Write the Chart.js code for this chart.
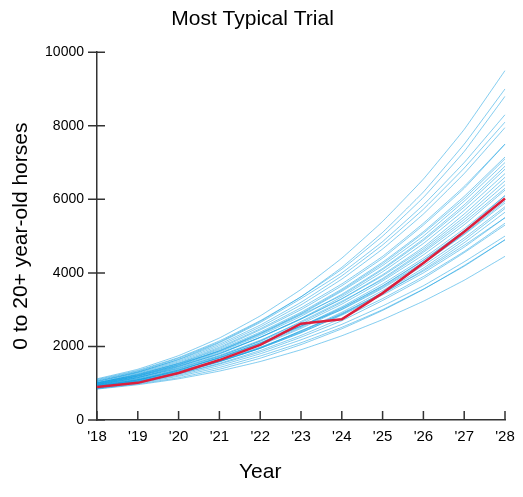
<!DOCTYPE html>
<html>
<head>
<meta charset="utf-8">
<title>Most Typical Trial</title>
<script src="https://cdn.jsdelivr.net/npm/chart.js@4"></script>
<style>
  html, body { margin: 0; padding: 0; background: #fff; }
  #wrap { width: 523px; height: 497px; }
</style>
</head>
<body>
<div id="wrap"><canvas id="trialChart" width="523" height="497"></canvas></div>
<script>
// Years on the x axis
const years = ["'18", "'19", "'20", "'21", "'22", "'23", "'24", "'25", "'26", "'27", "'28"];
const yTicks = [0, 2000, 4000, 6000, 8000, 10000];

// The highlighted (most typical) trial
const typicalTrial = [900, 1010, 1280, 1630, 2040, 2620, 2740, 3450, 4270, 5120, 6020];

// Other simulated trials (approximate)
const trial01 = [900, 1080, 1350, 1700, 2100, 2550, 3050, 3650, 4350, 5150, 6100];
const trial02 = [950, 1150, 1450, 1800, 2250, 2750, 3300, 3950, 4700, 5600, 6600];
const trial03 = [880, 1050, 1280, 1580, 1950, 2380, 2850, 3400, 4000, 4700, 5500];
const trial04 = [1000, 1250, 1550, 1950, 2450, 3000, 3650, 4400, 5300, 6300, 7500];
const trial05 = [1050, 1300, 1650, 2100, 2650, 3300, 4000, 4850, 5850, 7000, 8300];
const trial06 = [920, 1100, 1330, 1620, 1980, 2400, 2900, 3450, 4050, 4750, 5500];
const trial07 = [850, 980, 1150, 1380, 1680, 2050, 2480, 2980, 3550, 4200, 4900];
const trial08 = [980, 1200, 1500, 1880, 2350, 2880, 3500, 4200, 5000, 5950, 7000];
const trial09 = [1100, 1350, 1700, 2150, 2700, 3350, 4100, 5000, 6050, 7300, 8800];
const trial10 = [900, 1050, 1250, 1520, 1850, 2250, 2700, 3250, 3850, 4550, 5300];
const trial11 = [960, 1170, 1430, 1760, 2170, 2650, 3200, 3850, 4600, 5450, 6400];
const trial12 = [870, 1020, 1220, 1480, 1800, 2180, 2600, 3100, 3650, 4300, 5000];
const trial13 = [1020, 1270, 1580, 1980, 2480, 3050, 3700, 4450, 5350, 6350, 7500];
const trial14 = [940, 1130, 1380, 1700, 2100, 2550, 3080, 3700, 4400, 5200, 6100];
const trial15 = [990, 1210, 1490, 1850, 2300, 2820, 3420, 4120, 4920, 5850, 6900];
const trial16 = [1080, 1330, 1680, 2120, 2680, 3350, 4150, 5100, 6200, 7500, 9000];
const trial17 = [890, 1060, 1290, 1590, 1970, 2420, 2930, 3520, 4200, 4950, 5800];
const trial18 = [930, 1120, 1360, 1680, 2060, 2520, 3040, 3640, 4340, 5130, 6000];
const trial19 = [1010, 1240, 1540, 1920, 2390, 2930, 3560, 4290, 5120, 6080, 7150];
const trial20 = [860, 1000, 1190, 1430, 1740, 2100, 2520, 3000, 3560, 4180, 4900];
const trial21 = [970, 1190, 1470, 1820, 2250, 2760, 3350, 4030, 4800, 5700, 6700];
const trial22 = [920, 1090, 1310, 1600, 1950, 2370, 2870, 3430, 4080, 4820, 5650];
const trial23 = [1040, 1290, 1610, 2020, 2530, 3130, 3830, 4650, 5600, 6700, 7950];
const trial24 = [880, 1040, 1260, 1540, 1890, 2300, 2770, 3300, 3900, 4580, 5350];
const trial25 = [950, 1150, 1410, 1740, 2140, 2610, 3150, 3780, 4490, 5310, 6250];
const trial26 = [1000, 1220, 1510, 1890, 2360, 2900, 3530, 4250, 5080, 6020, 7100];
const trial27 = [1060, 1310, 1640, 2060, 2580, 3200, 3920, 4760, 5730, 6850, 8100];
const trial28 = [910, 1090, 1330, 1640, 2030, 2490, 3010, 3610, 4290, 5060, 5950];
const trial29 = [840, 960, 1120, 1330, 1590, 1910, 2290, 2730, 3230, 3800, 4450];
const trial30 = [1120, 1380, 1750, 2230, 2830, 3550, 4400, 5400, 6550, 7900, 9500];
const trial31 = [960, 1160, 1400, 1730, 2150, 2680, 3230, 3820, 4560, 5380, 6300];
const trial32 = [1010, 1230, 1530, 1870, 2330, 2860, 3390, 4090, 4880, 5790, 6820];
const trial33 = [930, 1100, 1360, 1690, 2080, 2560, 3000, 3580, 4260, 5040, 5900];
const trial34 = [980, 1190, 1460, 1800, 2240, 2740, 3290, 3920, 4650, 5520, 6500];
const trial35 = [900, 1070, 1290, 1590, 1950, 2430, 2880, 3470, 4130, 4890, 5750];

const trials = [
  trial01, trial02, trial03, trial04, trial05, trial06, trial07, trial08, trial09, trial10,
  trial11, trial12, trial13, trial14, trial15, trial16, trial17, trial18, trial19, trial20,
  trial21, trial22, trial23, trial24, trial25, trial26, trial27, trial28, trial29, trial30,
  trial31, trial32, trial33, trial34, trial35
];

const FONT = "'Liberation Sans', Arial, sans-serif";

// draws the little cross/tick marks on both axes, plus the "Year" caption
const axisExtras = {
  id: 'axisExtras',
  afterDraw(chart) {
    const { ctx, scales: { x, y } } = chart;
    ctx.save();
    ctx.strokeStyle = '#333';
    ctx.lineWidth = 1.5;
    ctx.beginPath();
    yTicks.forEach(v => {
      const py = y.getPixelForValue(v);
      ctx.moveTo(x.left - 9, py);
      ctx.lineTo(x.left + 8, py);
    });
    years.forEach((lbl, i) => {
      const px = x.getPixelForValue(i);
      ctx.moveTo(px, y.bottom);
      ctx.lineTo(px, y.bottom - 9);
    });
    ctx.stroke();

    // x caption sits under '22 in the original, not centred on the axis
    ctx.fillStyle = '#000';
    ctx.font = '21px ' + FONT;
    ctx.textAlign = 'center';
    ctx.textBaseline = 'middle';
    ctx.fillText('Year', x.getPixelForValue(4), 472);
    ctx.restore();
  }
};

const datasets = [{
  label: 'Most typical trial',
  data: typicalTrial,
  borderColor: '#dc1f3c',
  borderWidth: 2.5,
  pointRadius: 0,
  tension: 0
}];
trials.forEach((t, i) => {
  datasets.push({
    label: 'Trial ' + (i + 1),
    data: t,
    borderColor: 'rgba(10, 155, 225, 0.5)',
    borderWidth: 1,
    pointRadius: 0,
    tension: 0.1
  });
});

new Chart(document.getElementById('trialChart'), {
  type: 'line',
  data: { labels: years, datasets: datasets },
  options: {
    responsive: false,
    animation: false,
    layout: { padding: { left: 0, right: 18, top: 0, bottom: 0 } },
    plugins: {
      legend: { display: false },
      tooltip: { enabled: false },
      title: {
        display: true,
        text: 'Most Typical Trial',
        color: '#000',
        font: { family: FONT, size: 21, weight: 'normal' },
        padding: { top: 7, bottom: 20 }
      }
    },
    scales: {
      x: {
        offset: false,
        afterFit(scale) { scale.height = 77; },
        grid: { display: false, drawTicks: false },
        border: { display: true, color: '#333', width: 1.5 },
        ticks: {
          color: '#000',
          padding: 8,
          maxRotation: 0,
          autoSkip: false,
          font: { family: FONT, size: 15 }
        },
        title: { display: false }
      },
      y: {
        min: 0,
        max: 10000,
        afterFit(scale) { scale.width = 97; },
        afterBuildTicks(scale) { scale.ticks = yTicks.map(v => ({ value: v })); },
        grid: { display: false, drawTicks: false },
        border: { display: true, color: '#333', width: 1.5 },
        ticks: {
          color: '#000',
          padding: 13,
          font: { family: FONT, size: 14 },
          callback: v => String(v)
        },
        title: {
          display: true,
          text: '0 to 20+ year-old horses',
          color: '#000',
          font: { family: FONT, size: 21 },
          padding: { top: 9, bottom: 0 }
        }
      }
    }
  },
  plugins: [axisExtras]
});
</script>
</body>
</html>
